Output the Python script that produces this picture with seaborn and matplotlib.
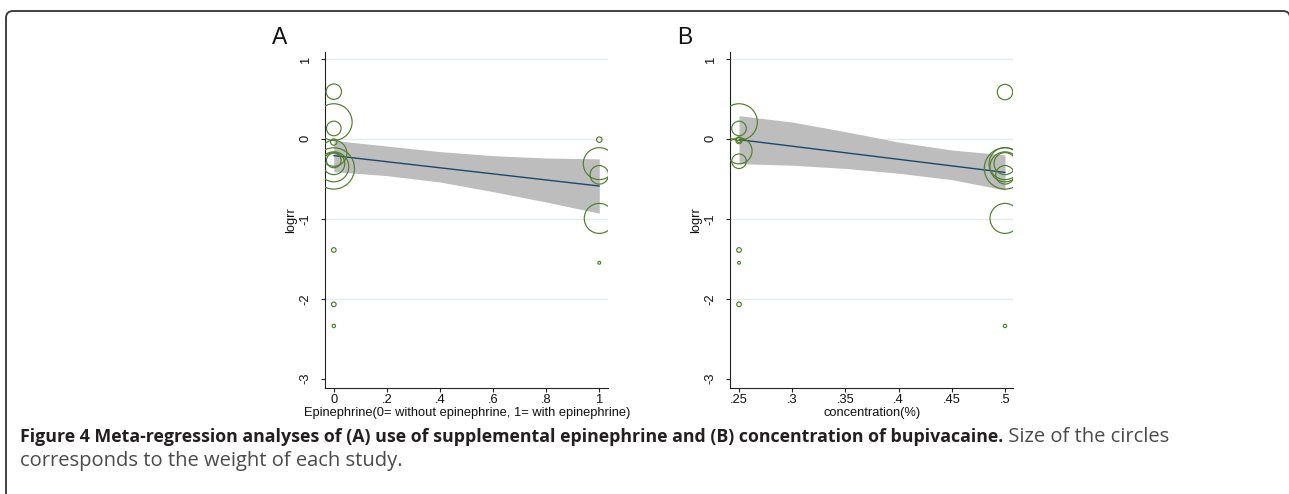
import matplotlib
matplotlib.use("Agg")
import matplotlib.pyplot as plt
import seaborn as sns
import pandas as pd
from matplotlib.patches import FancyBboxPatch

# ---------------- data ----------------
# Panel A: epinephrine (0 = without, 1 = with)
a_epinephrine = [0, 0, 0, 0, 0, 0, 0, 0, 0, 0, 0, 0, 1, 1, 1, 1, 1]
a_logrr = [0.59, 0.21, 0.13, -0.04, -0.18, -0.27, -0.31, -0.35, -0.37, -1.39, -2.07, -2.34,
           -0.01, -0.31, -0.45, -0.995, -1.55]
a_weight = [2.9, 16.4, 2.6, 0.5, 8.3, 2.6, 5.9, 11.0, 20.9, 0.26, 0.26, 0.14,
            0.36, 12.5, 4.2, 11.0, 0.10]
a_fit_x = [0, 1]
a_fit_y = [-0.21, -0.59]
a_ci_x = [0, 0.2, 0.4, 0.6, 0.8, 1.0]
a_ci_hi = [-0.02, -0.09, -0.16, -0.21, -0.24, -0.25]
a_ci_lo = [-0.41, -0.46, -0.54, -0.66, -0.79, -0.93]

# Panel B: concentration (%)
b_conc = [0.25, 0.25, 0.25, 0.25, 0.25, 0.25, 0.25, 0.25, 0.25,
          0.5, 0.5, 0.5, 0.5, 0.5, 0.5, 0.5, 0.5]
b_logrr = [0.21, 0.13, -0.02, -0.01, -0.15, -0.28, -1.39, -1.55, -2.07,
           0.585, -0.31, -0.35, -0.37, -0.31, -0.45, -0.995, -2.34]
b_weight = [16.4, 2.6, 0.5, 0.36, 8.3, 2.6, 0.26, 0.10, 0.26,
            2.9, 5.9, 11.0, 20.9, 12.5, 4.2, 11.0, 0.14]
b_fit_x = [0.25, 0.5]
b_fit_y = [-0.01, -0.42]
b_ci_x = [0.25, 0.30, 0.35, 0.40, 0.45, 0.50]
b_ci_hi = [0.29, 0.21, 0.09, -0.04, -0.14, -0.20]
b_ci_lo = [-0.31, -0.33, -0.37, -0.43, -0.51, -0.64]

a_xticks = [0, 0.2, 0.4, 0.6, 0.8, 1.0]
a_xticklabels = ["0", ".2", ".4", ".6", ".8", "1"]
b_xticks = [0.25, 0.30, 0.35, 0.40, 0.45, 0.50]
b_xticklabels = [".25", ".3", ".35", ".4", ".45", ".5"]
yticks = [-3, -2, -1, 0, 1]
yticklabels = ["-3", "-2", "-1", "0", "1"]
gridlines = [-2, -1, 0, 1]

a_xlabel = "Epinephrine(0= without epinephrine, 1= with epinephrine)"
b_xlabel = "concentration(%)"
ylabel = "logrr"
caption_bold = ("Figure 4 Meta-regression analyses of (A) use of supplemental epinephrine "
                "and (B) concentration of bupivacaine.")
caption_reg1 = " Size of the circles"
caption_reg2 = "corresponds to the weight of each study."

# ---------------- style ----------------
sns.set_theme(style="white")
plt.rcParams["font.family"] = ["Liberation Sans", "DejaVu Sans"]

GREEN = "#4f7f2c"
NAVY = "#1a476f"
BAND = "#bdbdbd"
GRID = "#e2ecef"
AXC = "#222222"
TXT = "#111111"
FS = 9.3

W, H = 1289, 494
fig = plt.figure(figsize=(W / 100, H / 100), dpi=100)
fig.patch.set_facecolor("white")

K = 42.4  # marker area (pt^2) per unit of weight


def panel(left_px, x, y, w, fit_x, fit_y, ci_x, ci_lo, ci_hi, xlim, xticks, xticklabels,
          xlabel, letter):
    ax = fig.add_axes([left_px / W, (H - 388.3) / H, 283 / W, 336.6 / H])
    ax.set_facecolor("white")
    for g in gridlines:
        ax.axhline(g, color=GRID, lw=1.0, zorder=0)
    ax.fill_between(ci_x, ci_lo, ci_hi, color=BAND, lw=0, zorder=1)
    sns.lineplot(x=fit_x, y=fit_y, ax=ax, color=NAVY, lw=1.0, zorder=2)
    df = pd.DataFrame({"x": x, "y": y, "w": w})
    wmin, wmax = min(w), max(w)
    sns.scatterplot(data=df, x="x", y="y", size="w", sizes=(K * wmin, K * wmax),
                    size_norm=(wmin, wmax), legend=False, ax=ax, marker="o",
                    facecolor="none", edgecolor=GREEN, linewidth=0.85, zorder=3)
    ax.set_xlim(*xlim)
    ax.set_ylim(-3.12, 1.09)
    ax.set_xticks(xticks)
    ax.set_xticklabels(xticklabels)
    ax.set_yticks(yticks)
    ax.set_yticklabels(yticklabels, rotation=90, va="center")
    ax.set_xlabel("")
    ax.set_ylabel("")
    for s in ["top", "right"]:
        ax.spines[s].set_visible(False)
    for s in ["left", "bottom"]:
        ax.spines[s].set_color(AXC)
        ax.spines[s].set_linewidth(0.8)
    ax.tick_params(axis="both", which="major", length=3.2, width=0.8, color=AXC,
                   labelsize=FS, labelcolor=TXT, direction="out")
    ax.tick_params(axis="x", pad=1.0, bottom=True)
    ax.tick_params(axis="y", pad=6.5, left=True)
    ax.grid(False)
    cx = left_px + 283 / 2
    fig.text(cx / W, 1 - 412.5 / H, xlabel, ha="center", va="center", fontsize=FS,
             color=TXT)
    fig.text((left_px - 34) / W, 1 - 220 / H, ylabel, rotation=90, ha="center",
             va="center", fontsize=FS, color=TXT)
    fig.text((left_px - 46) / W, 1 - 38 / H, letter, ha="center", va="center",
             fontsize=16.5, color=TXT)
    return ax


panel(325.3, a_epinephrine, a_logrr, a_weight, a_fit_x, a_fit_y, a_ci_x, a_ci_lo, a_ci_hi,
      (-0.032, 1.034), a_xticks, a_xticklabels, a_xlabel, "A")
panel(730.3, b_conc, b_logrr, b_weight, b_fit_x, b_fit_y, b_ci_x, b_ci_lo, b_ci_hi,
      (0.2418, 0.5078), b_xticks, b_xticklabels, b_xlabel, "B")

# caption
cap_font = ["Open Sans", "DejaVu Sans"]
renderer = fig.canvas.get_renderer()
t1 = fig.text(20 / W, 1 - 437 / H, caption_bold, ha="left", va="center", fontsize=10.5,
              fontweight="bold", family=cap_font, color="#231f20")
bb = t1.get_window_extent(renderer)
size = 10.5 * (983 / bb.width)
t1.set_fontsize(size)
bb = t1.get_window_extent(renderer)
reg_size = size * 1.14
fig.text(bb.x1 / W, 1 - 437 / H, caption_reg1, ha="left", va="center", fontsize=reg_size,
         family=cap_font, color="#4a4a4a")
fig.text(20 / W, 1 - 461 / H, caption_reg2, ha="left", va="center", fontsize=reg_size,
         family=cap_font, color="#4a4a4a")

# frame (top and left rounded border)
frame = FancyBboxPatch((6, -60), 1284, H - 11 + 60, boxstyle="round,pad=0,rounding_size=7",
                       transform=None, fill=False, edgecolor="#333333", lw=1.3)
fig.patches.append(frame)

fig.savefig("out.png", dpi=100)
